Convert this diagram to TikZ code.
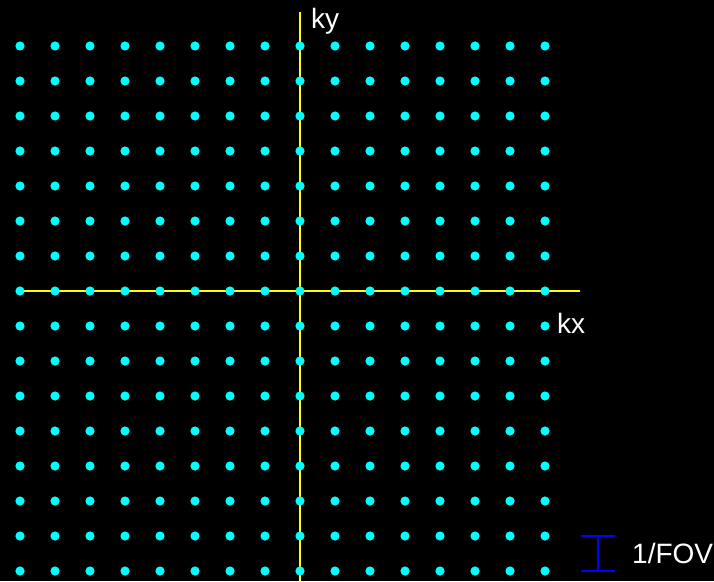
\documentclass[tikz,border=0pt]{standalone}
\usepackage{fontspec}
\setmainfont{Liberation Sans}
\definecolor{dotcyan}{RGB}{0,255,255}
\definecolor{axyellow}{RGB}{255,255,0}
\definecolor{barblue}{RGB}{0,0,255}
\begin{document}
\begin{tikzpicture}[x=1pt,y=-1pt,
  axis/.style={draw=axyellow,line width=1.8pt},
  dot/.style={fill=dotcyan},
  lbl/.style={text=white,font=\fontsize{28}{28}\selectfont,inner sep=0pt,anchor=base west},
  scalebar/.style={draw=barblue,line width=1.5pt}]
\fill[black] (0,0) rectangle (714,581);
\useasboundingbox (0,0) rectangle (714,581);
% axes
\coordinate (ytop) at (300,12);
\coordinate (ybot) at (300,581);
\coordinate (xl) at (20,291);
\coordinate (xr) at (580,291);
\draw[axis] (ytop) -- (ybot);
\draw[axis] (xl) -- (xr);
% sampling grid
\foreach \i in {0,...,15}{
  \foreach \j in {0,...,15}{
    \fill[dot] ({20+35*\i},{46+35*\j}) circle (4.6);
  }
}
% labels
\node[lbl] (ky) at (311,28) {ky};
\node[lbl] (kx) at (557,333) {kx};
% scale bar
\coordinate (sbt) at (598,536);
\coordinate (sbb) at (598,571);
\draw[scalebar] (581,536) -- (615,536);
\draw[scalebar] (581,571) -- (615,571);
\draw[scalebar] (sbt) -- (sbb);
\node[lbl] (fov) at (632,563) {1/FOV};
\end{tikzpicture}
\end{document}
